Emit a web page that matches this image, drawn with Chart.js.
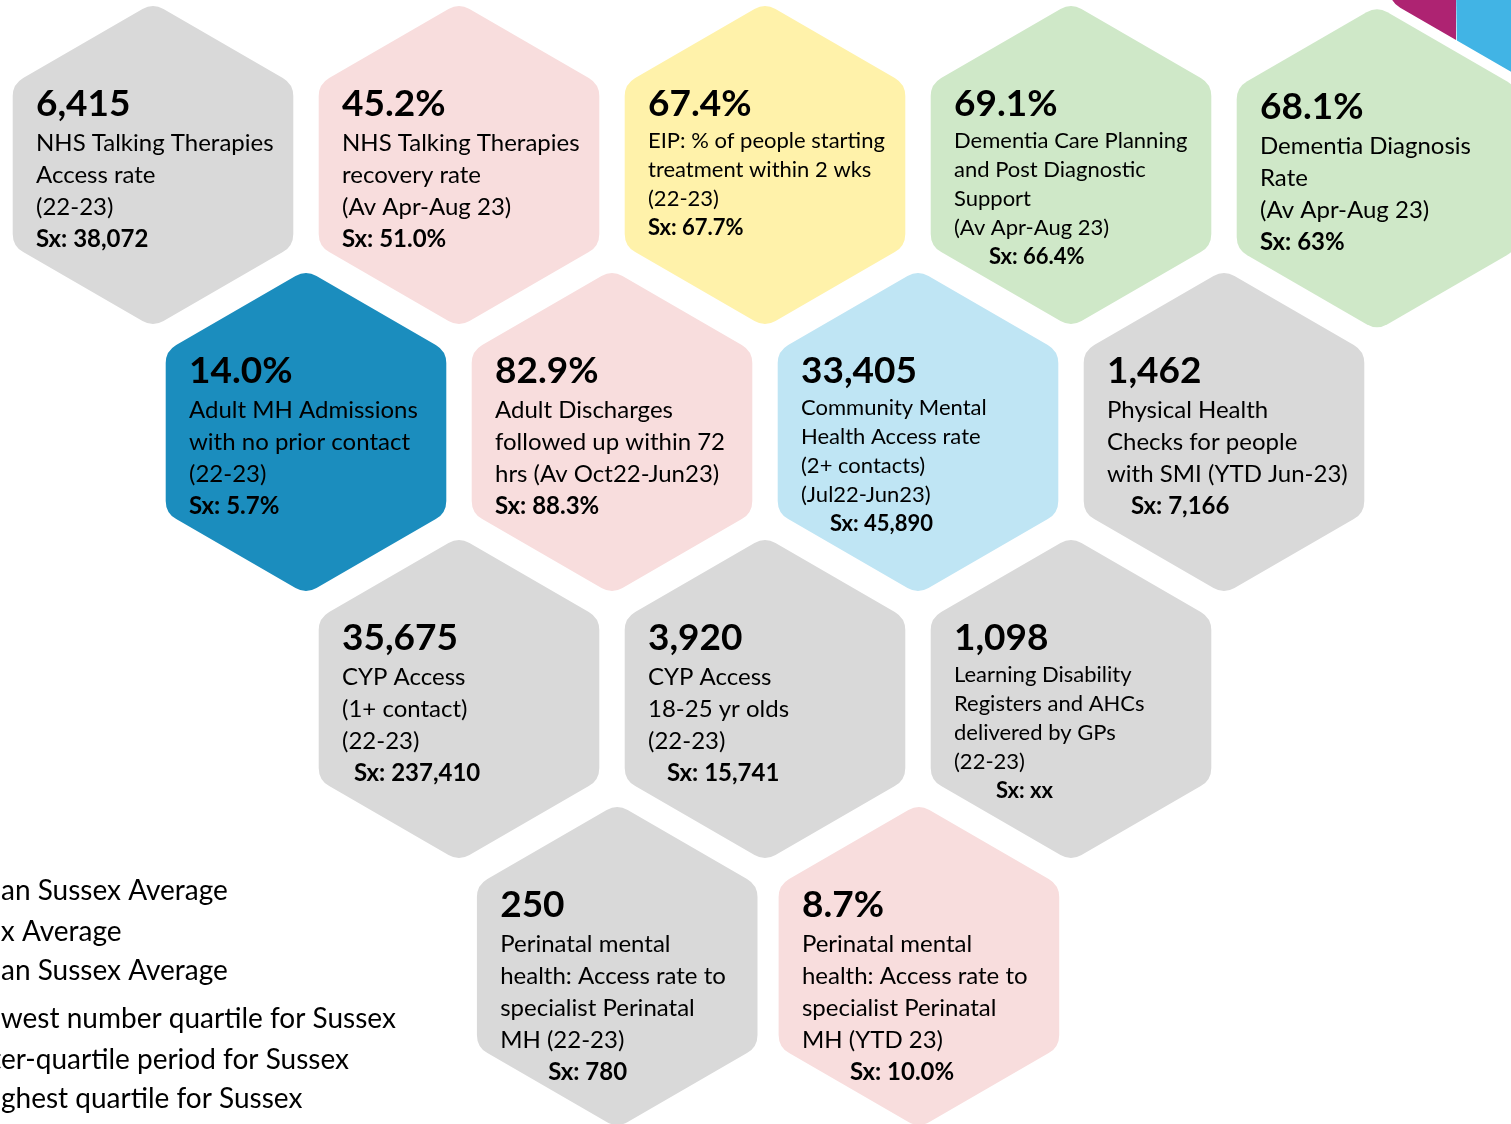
<!DOCTYPE html>
<html>
<head>
<meta charset="utf-8">
<script src="https://cdn.jsdelivr.net/npm/chart.js@4.4.0/dist/chart.umd.min.js"></script>
<style>
html, body { margin: 0; padding: 0; background: #fff; overflow: hidden; }
#hexChart { display: block; }
</style>
</head>
<body>
<canvas id="hexChart" width="1511" height="1124"></canvas>
<script>
// headline figure per indicator
var headlineValues = ['6,415', '45.2%', '67.4%', '69.1%', '68.1%',
                      '14.0%', '82.9%', '33,405', '1,462',
                      '35,675', '3,920', '1,098',
                      '250', '8.7%'];
var measureLabels = [
    ['NHS Talking Therapies', 'Access rate', '(22-23)'],
    ['NHS Talking Therapies', 'recovery rate', '(Av Apr-Aug 23)'],
    ['EIP: % of people starting', 'treatment within 2 wks', '(22-23)'],
    ['Dementia Care Planning', 'and Post Diagnostic', 'Support', '(Av Apr-Aug 23)'],
    ['Dementia Diagnosis', 'Rate', '(Av Apr-Aug 23)'],
    ['Adult MH Admissions', 'with no prior contact', '(22-23)'],
    ['Adult Discharges', 'followed up within 72', 'hrs (Av Oct22-Jun23)'],
    ['Community Mental', 'Health Access rate', '(2+ contacts)', '(Jul22-Jun23)'],
    ['Physical Health', 'Checks for people', 'with SMI (YTD Jun-23)'],
    ['CYP Access', '(1+ contact)', '(22-23)'],
    ['CYP Access', '18-25 yr olds', '(22-23)'],
    ['Learning Disability', 'Registers and AHCs', 'delivered by GPs', '(22-23)'],
    ['Perinatal mental', 'health: Access rate to', 'specialist Perinatal', 'MH (22-23)'],
    ['Perinatal mental', 'health: Access rate to', 'specialist Perinatal', 'MH (YTD 23)']
];
var sussexValues = ['38,072', '51.0%', '67.7%', '66.4%', '63%',
                    '5.7%', '88.3%', '45,890', '7,166',
                    '237,410', '15,741', 'xx',
                    '780', '10.0%'];
var ratings = ['count', 'below', 'similar', 'above', 'above',
               'highQuartile', 'below', 'midQuartile', 'count',
               'count', 'count', 'count',
               'count', 'below'];
// legend text: the part before '|' runs off the left edge of the page
var legendLabels = ['Lower th|an Sussex Average', 'Susse|x Average', 'Higher th|an Sussex Average',
                    'Lo|west number quartile for Sussex', 'Int|er-quartile period for Sussex',
                    'Hi|ghest quartile for Sussex'];

// layout only: honeycomb slot (column in hex widths, row) and text tweaks
var hexSlots = [
    {col: 0, row: 0, small: false, sx: 0},
    {col: 1, row: 0, small: false, sx: 0},
    {col: 2, row: 0, small: true, sx: 0},
    {col: 3, row: 0, small: true, sx: 35},
    {col: 4, row: 0.012, small: false, sx: 0},
    {col: 0.5, row: 1, small: false, sx: 0},
    {col: 1.5, row: 1, small: false, sx: 0},
    {col: 2.5, row: 1, small: true, sx: 29},
    {col: 3.5, row: 1, small: false, sx: 24},
    {col: 1, row: 2, small: false, sx: 12},
    {col: 2, row: 2, small: false, sx: 19},
    {col: 3, row: 2, small: true, sx: 42},
    {col: 1.517, row: 3, small: false, sx: 48},
    {col: 2.503, row: 3, small: false, sx: 48}
];
var ratingColors = {
    count: '#d9d9d9', below: '#f8dddd', similar: '#fff2aa', above: '#cfe8c8',
    highQuartile: '#1b8dbe', midQuartile: '#bfe5f4'
};
var legendBaselines = [900, 941, 980, 1028, 1069, 1108];

var FONT = 'Lato, "Open Sans", sans-serif';
var HEX_R = 162, CORNER = 21;

function hexPath(ctx, cx, cy, R, r) {
    var pts = [];
    for (var k = 0; k < 6; k++) {
        var a = (-90 + 60 * k) * Math.PI / 180;
        pts.push([cx + R * Math.cos(a), cy + R * Math.sin(a)]);
    }
    ctx.beginPath();
    var m = [(pts[5][0] + pts[0][0]) / 2, (pts[5][1] + pts[0][1]) / 2];
    ctx.moveTo(m[0], m[1]);
    for (var j = 0; j < 6; j++) {
        var p = pts[j], n = pts[(j + 1) % 6];
        ctx.arcTo(p[0], p[1], n[0], n[1], r);
    }
    ctx.closePath();
}

var honeycomb = {
    id: 'honeycomb',
    afterDatasetsDraw: function(chart) {
        var ctx = chart.ctx;
        ctx.save();

        // decorative corner hex (top right, mostly off the page)
        var deco = chart.getDatasetMeta(1).data[0];
        ctx.save();
        hexPath(ctx, deco.x, deco.y, HEX_R, CORNER);
        ctx.clip();
        ctx.fillStyle = '#ae2372';
        ctx.fillRect(deco.x - 200, deco.y - 200, 200 - 74, 400);
        ctx.fillStyle = '#41b4e5';
        ctx.beginPath();
        ctx.moveTo(deco.x - 78, deco.y - 200);
        ctx.lineTo(deco.x + 200, deco.y - 200);
        ctx.lineTo(deco.x + 200, deco.y + 200);
        ctx.lineTo(deco.x - 72, deco.y + 200);
        ctx.closePath();
        ctx.fill();
        ctx.restore();

        var meta = chart.getDatasetMeta(0);
        meta.data.forEach(function(pt, i) {
            var cx = pt.x, cy = pt.y, slot = hexSlots[i];
            hexPath(ctx, cx, cy, HEX_R, CORNER);
            ctx.fillStyle = ratingColors[ratings[i]];
            ctx.fill();

            var left = cx - 117;
            ctx.fillStyle = '#000';
            ctx.textAlign = 'left';
            ctx.textBaseline = 'alphabetic';
            ctx.font = 'bold 37px ' + FONT;
            ctx.fillText(headlineValues[i], left, cy - 49);

            var size = slot.small ? 22 : 24;
            var step = slot.small ? 29 : 32;
            var y = cy + (slot.small ? -17 : -14);
            ctx.font = size + 'px ' + FONT;
            measureLabels[i].forEach(function(line) {
                ctx.fillText(line, left, y);
                y += step;
            });
            ctx.font = 'bold ' + size + 'px ' + FONT;
            ctx.fillText('Sx: ' + sussexValues[i], left + slot.sx, y);
        });

        // legend, its swatches sit off the left edge of the page
        ctx.font = '28px ' + FONT;
        ctx.textAlign = 'left';
        ctx.fillStyle = '#000';
        legendLabels.forEach(function(txt, i) {
            var parts = txt.split('|');
            var x0 = 1 - ctx.measureText(parts[0]).width;
            ctx.fillText(parts.join(''), x0, legendBaselines[i]);
        });
        ctx.restore();
    }
};

var ctx = document.getElementById('hexChart').getContext('2d');
var hexChart = new Chart(ctx, {
    type: 'scatter',
    data: {
        datasets: [{
            label: 'indicators',
            data: hexSlots.map(function(s) { return {x: s.col, y: s.row}; }),
            pointRadius: 0
        }, {
            label: 'corner',
            data: [{x: 4.5, y: -0.915}],
            pointRadius: 0
        }]
    },
    options: {
        responsive: false,
        animation: false,
        devicePixelRatio: 1,
        layout: { padding: 0 },
        plugins: { legend: { display: false }, tooltip: { enabled: false } },
        scales: {
            x: { type: 'linear', display: false, min: -153 / 306, max: (1511 - 153) / 306 },
            y: { type: 'linear', display: false, reverse: true, min: -165 / 267, max: (1124 - 165) / 267 }
        }
    },
    plugins: [honeycomb]
});
</script>
</body>
</html>
